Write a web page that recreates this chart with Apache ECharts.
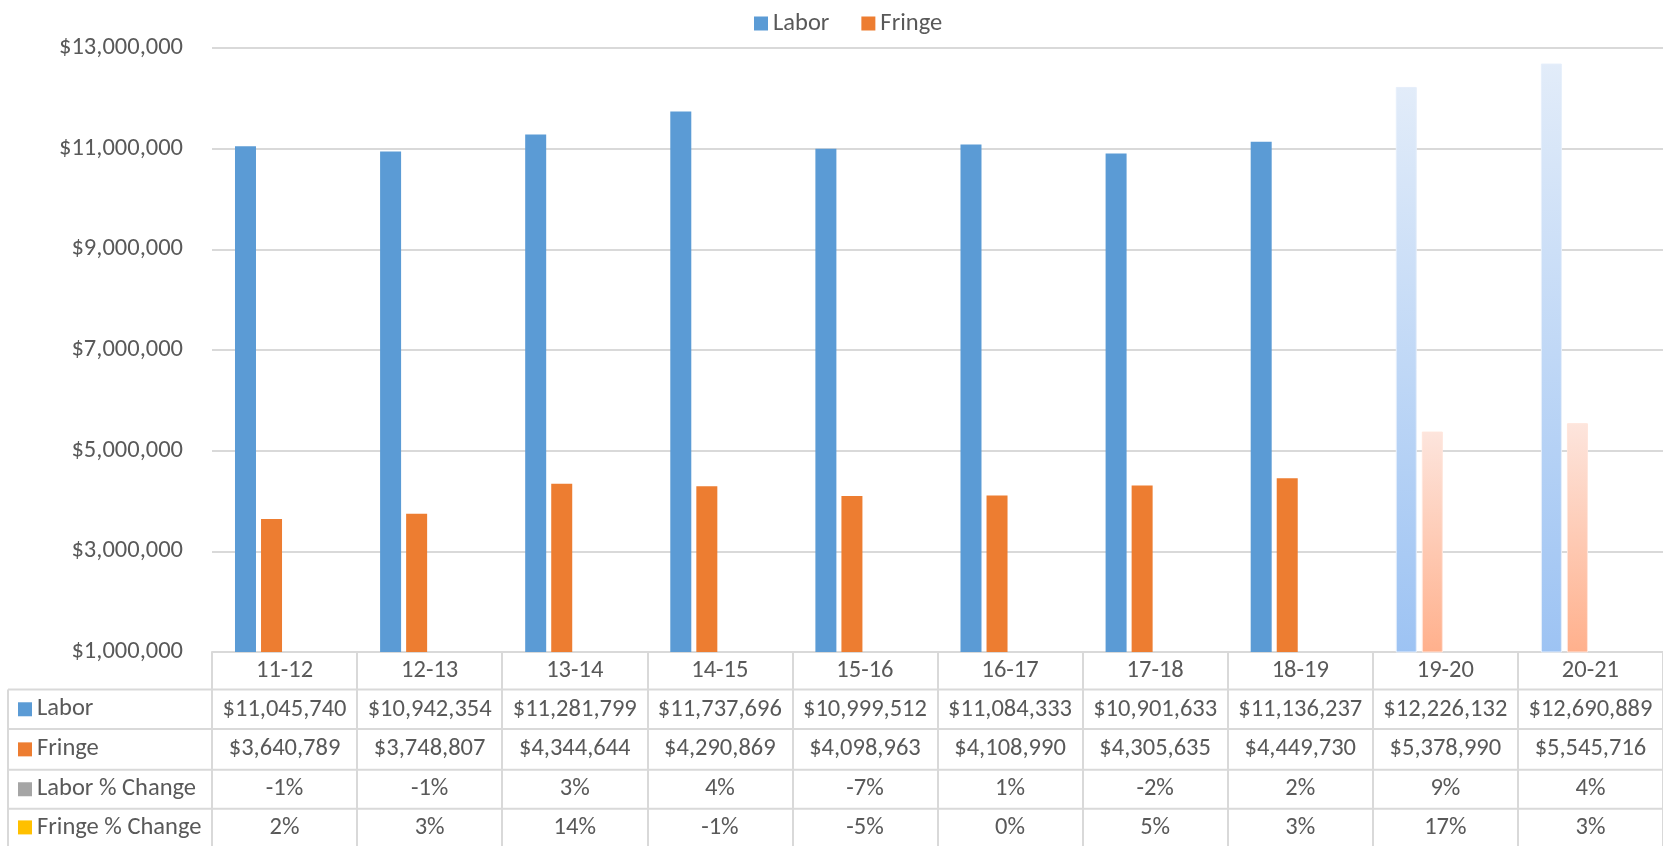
<!DOCTYPE html>
<html><head><meta charset="utf-8">
<script src="https://cdn.jsdelivr.net/npm/echarts/dist/echarts.min.js"></script>
<style>html,body{margin:0;padding:0;background:#fff}#c{width:1663px;height:846px}</style>
</head><body><div id="c"></div>
<script>
const categories = ['11-12','12-13','13-14','14-15','15-16','16-17','17-18','18-19','19-20','20-21'];
const labor = [11045740,10942354,11281799,11737696,10999512,11084333,10901633,11136237,12226132,12690889];
const fringe = [3640789,3748807,4344644,4290869,4098963,4108990,4305635,4449730,5378990,5545716];
const laborPct = [-1,-1,3,4,-7,1,-2,2,9,4];
const fringePct = [2,3,14,-1,-5,0,5,3,17,3];
const rowNames = ['Labor','Fringe','Labor % Change','Fringe % Change'];
const projectedFrom = 8; // 19-20 onward drawn as projected (gradient)
const yMin = 1000000, yMax = 13000000, yStep = 2000000;

const FONT = "Carlito, 'Open Sans', sans-serif";
const FS = 24.5;
const TXT = '#595959';
const LINE = '#D9D9D9';
const colors = ['#5B9BD5','#ED7D31','#A5A5A5','#FFC000'];

const money = v => '$' + Math.round(v).toLocaleString('en-US');
const pct = v => v + '%';

const G = {left:212, right:0, top:48, bottom:194};
const H = 846, W = 1663;
const axisY = H - G.bottom;
const rowH = 39.5;

function projStyle(top, bottom, border){
  return {color:{type:'linear',x:0,y:0,x2:0,y2:1,colorStops:[{offset:0,color:top},{offset:1,color:bottom}]},borderColor:border,borderWidth:1};
}
const laborData = labor.map((v,i)=> i>=projectedFrom ? {value:v,itemStyle:projStyle('#E2ECF9','#9DC3F3','#E6EFFB')} : v);
const fringeData = fringe.map((v,i)=> i>=projectedFrom ? {value:v,itemStyle:projStyle('#FDE5DD','#FFB08C','#FFE6DC')} : v);

const rowFormatters = [
  i => money(labor[i]), i => money(fringe[i]), i => pct(laborPct[i]), i => pct(fringePct[i])
];

const xAxes = [{
  type:'category', data:categories, gridIndex:0, position:'bottom',
  axisLine:{show:true,lineStyle:{color:LINE,width:2}},
  axisTick:{show:true,length:G.bottom,lineStyle:{color:LINE,width:2}},
  axisLabel:{interval:0,hideOverlap:false,margin:6,fontSize:FS,lineHeight:26,color:TXT,fontFamily:FONT}
}];
rowFormatters.forEach((f,k)=>{
  xAxes.push({
    type:'category', data:categories, gridIndex:0, position:'bottom', offset:rowH*(k+1),
    axisLine:{show:false}, axisTick:{show:false}, splitLine:{show:false},
    axisLabel:{interval:0,hideOverlap:false,margin:5,fontSize:FS,lineHeight:26,color:TXT,fontFamily:FONT,formatter:(val,idx)=>f(idx)}
  });
});

const graphics = [];
const hLines = [axisY+rowH*0.95, axisY+rowH*1.95, axisY+rowH*2.98, axisY+rowH*3.97];
hLines.forEach(y=>graphics.push({type:'line',shape:{x1:8,y1:y,x2:W,y2:y},style:{stroke:LINE,lineWidth:2},silent:true}));
graphics.push({type:'line',shape:{x1:8,y1:hLines[0],x2:8,y2:H},style:{stroke:LINE,lineWidth:2},silent:true});
rowNames.forEach((name,k)=>{
  const cy = (k<3) ? (hLines[k]+hLines[k+1])/2 : (hLines[3]+H)/2;
  graphics.push({type:'rect',shape:{x:18,y:cy-7,width:14,height:14},style:{fill:colors[k]},silent:true});
  graphics.push({type:'text',x:37,y:cy,style:{text:name,fill:TXT,font:FS+"px "+FONT,textVerticalAlign:'middle'},silent:true});
});

const chart = echarts.init(document.getElementById('c'));
chart.setOption({
  animation:false,
  textStyle:{fontFamily:FONT},
  legend:{data:['Labor','Fringe'],left:749,top:6,itemWidth:14,itemHeight:14,itemGap:32,icon:'rect',
    textStyle:{fontSize:FS,color:TXT,fontFamily:FONT}},
  grid:G,
  xAxis:xAxes,
  yAxis:[{type:'value',min:yMin,max:yMax,interval:yStep,
    axisLine:{show:false},axisTick:{show:false},
    splitLine:{lineStyle:{color:LINE,width:2}},
    axisLabel:{margin:29,fontSize:FS,color:TXT,fontFamily:FONT,formatter:v=>money(v)}}],
  series:[
    {name:'Labor',type:'bar',data:laborData,barWidth:21,barGap:'24%',itemStyle:{color:colors[0]}},
    {name:'Fringe',type:'bar',data:fringeData,barWidth:21,barGap:'24%',itemStyle:{color:colors[1]}},
    {name:'Labor % Change',type:'bar',data:laborPct,barWidth:21,barGap:'24%',itemStyle:{color:colors[2]}},
    {name:'Fringe % Change',type:'bar',data:fringePct,barWidth:21,barGap:'24%',itemStyle:{color:colors[3]}}
  ],
  graphic:graphics
});
</script></body></html>
